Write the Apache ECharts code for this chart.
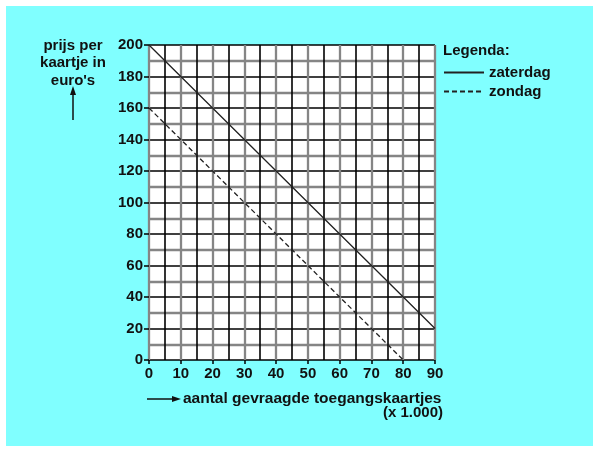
<!DOCTYPE html>
<html>
<head>
<meta charset="utf-8">
<script src="https://cdn.jsdelivr.net/npm/echarts@6/dist/echarts.min.js"></script>
<style>
  html, body { margin: 0; padding: 0; background: #ffffff; }
  #wrap { position: relative; width: 599px; height: 452px; background: #ffffff; }
  #bg { position: absolute; left: 6px; top: 6px; right: 6px; bottom: 6px; background: #80ffff; }
  #chart { position: absolute; left: 0; top: 0; width: 599px; height: 452px; }
</style>
</head>
<body>
<div id="wrap"><div id="bg"></div><div id="chart"></div></div>
<script>
// Data
const zaterdagAantal = [0, 10, 20, 30, 40, 50, 60, 70, 80, 90];
const zaterdagPrijs  = [200, 180, 160, 140, 120, 100, 80, 60, 40, 20];
const zondagAantal   = [0, 10, 20, 30, 40, 50, 60, 70, 80];
const zondagPrijs    = [160, 140, 120, 100, 80, 60, 40, 20, 0];
const seriesNames    = ['zaterdag', 'zondag'];
const yTitle = "prijs per\nkaartje in\neuro's";
const xTitle = 'aantal gevraagde toegangskaartjes';
const xUnit  = '(x 1.000)';
const legendTitle = 'Legenda:';

const FONT = "'Liberation Sans', Arial, sans-serif";
const txt = { fontFamily: FONT, fontWeight: 'bold', fontSize: 15, color: '#111' };

const chart = echarts.init(document.getElementById('chart'), null, { renderer: 'canvas' });

const pairs = (xs, ys) => xs.map((x, i) => [x, ys[i]]);

chart.setOption({
  backgroundColor: 'transparent',
  animation: false,
  grid: {
    left: 149, top: 45, width: 286, height: 315,
    show: true, backgroundColor: '#ffffff', borderWidth: 0
  },
  xAxis: {
    type: 'value', min: 0, max: 90, interval: 10,
    axisLine: { show: false },
    axisTick: { show: true, length: 4, lineStyle: { color: '#000', width: 1.5 } },
    axisLabel: Object.assign({ margin: 6 }, txt),
    splitLine: { show: true, lineStyle: { color: '#858585', width: 2.3 } },
    minorTick: { show: false, splitNumber: 2 },
    minorSplitLine: { show: true, lineStyle: { color: '#000', width: 1.6 } }
  },
  yAxis: {
    type: 'value', min: 0, max: 200, interval: 20,
    axisLine: { show: false },
    axisTick: { show: true, length: 5, lineStyle: { color: '#000', width: 1.5 } },
    axisLabel: Object.assign({ margin: 6 }, txt),
    splitLine: { show: true, lineStyle: { color: '#000', width: 1.6 } },
    minorTick: { show: false, splitNumber: 2 },
    minorSplitLine: { show: true, lineStyle: { color: '#858585', width: 2.3 } }
  },
  legend: {
    orient: 'vertical', left: 438, top: 60,
    itemWidth: 40, itemHeight: 14, itemGap: 4,
    data: seriesNames,
    itemStyle: { opacity: 0 },
    textStyle: { fontFamily: FONT, fontWeight: 'bold', fontSize: 15, color: '#111' }
  },
  series: [
    {
      name: seriesNames[0], type: 'line', symbol: 'none',
      data: pairs(zaterdagAantal, zaterdagPrijs),
      lineStyle: { color: '#222', width: 1.3, type: 'solid' },
      itemStyle: { color: '#222' }
    },
    {
      name: seriesNames[1], type: 'line', symbol: 'none',
      data: pairs(zondagAantal, zondagPrijs),
      lineStyle: { color: '#222', width: 1.3, type: [5, 3] },
      itemStyle: { color: '#222' }
    }
  ],
  graphic: [
    { type: 'text', left: 443, top: 43, style: { text: legendTitle, font: "bold 15px 'Liberation Sans', Arial, sans-serif", fill: '#111' } },
    { type: 'text', x: 73, y: 37, style: { text: yTitle, font: "bold 15px 'Liberation Sans', Arial, sans-serif", fill: '#111', textAlign: 'center', textVerticalAlign: 'top', lineHeight: 17.5 } },
    { type: 'line', shape: { x1: 73, y1: 120, x2: 73, y2: 92 }, style: { stroke: '#111', lineWidth: 1.5 } },
    { type: 'polygon', shape: { points: [[73, 86], [70, 95], [76, 95]] }, style: { fill: '#111' } },
    { type: 'line', shape: { x1: 147, y1: 399, x2: 174, y2: 399 }, style: { stroke: '#111', lineWidth: 1.5 } },
    { type: 'polygon', shape: { points: [[181, 399], [172, 396], [172, 402]] }, style: { fill: '#111' } },
    { type: 'text', x: 183, y: 399, style: { text: xTitle, font: "bold 15.5px 'Liberation Sans', Arial, sans-serif", fill: '#111', textAlign: 'left', textVerticalAlign: 'middle' } },
    { type: 'text', x: 443, y: 413, style: { text: xUnit, font: "bold 15px 'Liberation Sans', Arial, sans-serif", fill: '#111', textAlign: 'right', textVerticalAlign: 'middle' } }
  ]
});
</script>
</body>
</html>
